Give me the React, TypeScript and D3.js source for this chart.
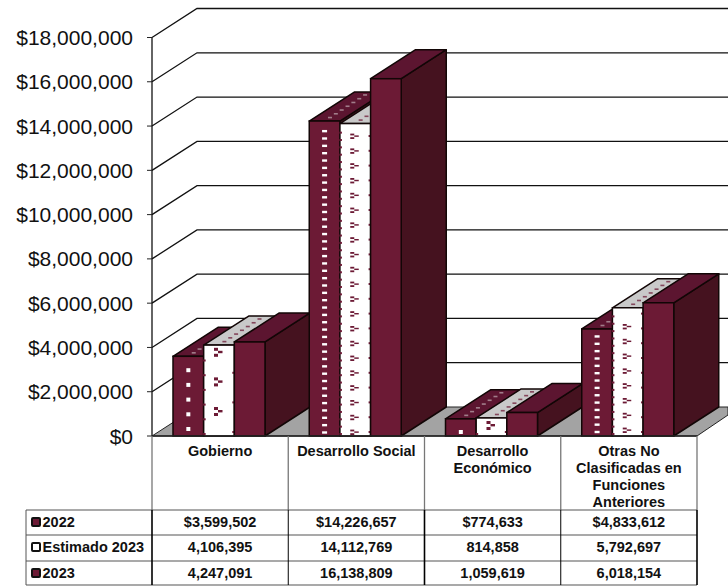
import React from "react";
import * as d3 from "d3";

const categories = ["Gobierno", "Desarrollo Social", "Desarrollo Económico", "Otras No Clasificadas en Funciones Anteriores"];
const categoryLines = [["Gobierno"], ["Desarrollo Social"], ["Desarrollo", "Económico"], ["Otras No", "Clasificadas en", "Funciones", "Anteriores"]];
const seriesNames = ["2022", "Estimado 2023", "2023"];
const values2022 = [3599502, 14226657, 774633, 4833612];
const valuesEst = [4106395, 14112769, 814858, 5792697];
const values2023 = [4247091, 16138809, 1059619, 6018154];
const rows2022 = ["$3,599,502", "$14,226,657", "$774,633", "$4,833,612"];
const rowsEst = ["4,106,395", "14,112,769", "814,858", "5,792,697"];
const rows2023 = ["4,247,091", "16,138,809", "1,059,619", "6,018,154"];
const yTicks = [0, 2, 4, 6, 8, 10, 12, 14, 16, 18].map((d) => d * 1e6);
const patternStep = [14.7, 7.35, 14.7, 7.35];
const patternPhase = [7, 3.5, 4, 4];
const estPatternStep = [29.6, 14.8, 29.6, 14.8];
const estPatternPhase = [25, 4, 11, 6];

const FRONT = "#6c1a35";
const TOP = "#5c1530";
const SIDE = "#45121f";
const FLOOR = "#a3a3a3";
const STROKE = "#120606";
const DX = 45;
const DY = -29;

const y = d3.scaleLinear().domain([0, 18e6]).range([436, 37.5]);
const xGroup = d3.scaleBand<string>().domain(categories).range([152, 697]);
const xBar = d3.scaleBand<string>().domain(seriesNames).range([21, 113]);
const seriesValues = [values2022, valuesEst, values2023];
const rowValues = [rows2022, rowsEst, rows2023];
const fmt = d3.format("$,.0f");
const RIGHT = 728;

const pts = (a: number[][]) => a.map((p) => p.join(",")).join(" ");

function Mark({ cx, cy, k }: { cx: number; cy: number; k: number }) {
  return (
    <g fill={FRONT}>
      <rect x={cx - 4} y={cy - 4 * k} width={4} height={3 * k} />
      <rect x={cx} y={cy - 1 * k} width={4.5} height={2.4 * k} />
      <rect x={cx - 4} y={cy + 2 * k} width={4} height={3 * k} />
    </g>
  );
}

function Bar({ g, s }: { g: number; s: number }) {
  const cat = categories[g];
  const name = seriesNames[s];
  const v = seriesValues[s][g];
  const x0 = xGroup(cat)! + xBar(name)!;
  const w = xBar.bandwidth();
  const yt = y(v);
  const yb = y(0);
  const frontFill = s === 1 ? "#fff" : FRONT;
  const topFill = s === 1 ? "#c9c9c9" : TOP;
  const topMarks = d3.range(0.12, 0.95, 0.13);
  const step = s === 0 ? patternStep[g] : estPatternStep[g];
  const phase = s === 0 ? patternPhase[g] : estPatternPhase[g];
  const rows = d3.range(yb - phase, yt + 5, -step);
  const dense = step < 20 && s === 1 || step < 10;
  const edgeL = d3.range(yb - 2, yt + 3, -patternStep[g]);
  const edgeR = d3.range(yb - 4, yt + 3, -estPatternStep[g]);
  return (
    <g>
      <polygon points={pts([[x0 + w, yt], [x0 + w + DX, yt + DY], [x0 + w + DX, yb + DY], [x0 + w, yb]])} fill={SIDE} stroke={STROKE} strokeWidth={1.5} strokeLinejoin="round" />
      <polygon points={pts([[x0, yt], [x0 + DX, yt + DY], [x0 + w + DX, yt + DY], [x0 + w, yt]])} fill={topFill} stroke={STROKE} strokeWidth={1.5} strokeLinejoin="round" />
      <rect x={x0} y={yt} width={w} height={yb - yt} fill={frontFill} stroke={STROKE} strokeWidth={1.5} />
      {s < 2 && topMarks.map((t, i) => (
        <rect key={i} x={x0 + w / 2 + DX * t - 2} y={yt + DY * t - 0.8} width={4} height={1.6}
          fill={s === 0 ? "#b8a0a8" : FRONT} opacity={0.75} />
      ))}
      {s === 0 && rows.map((ry, i) => (
        <rect key={i} x={x0 + w / 2 - (dense ? 2.5 : 2)} y={ry - (dense ? 1.2 : 2)} width={dense ? 5 : 4} height={dense ? 2.4 : 4} fill="#fff" />
      ))}
      {s === 1 && rows.map((ry, i) => <Mark key={i} cx={x0 + w / 2 - 1} cy={ry} k={dense ? 0.6 : 1} />)}
      {s === 1 && edgeL.map((ry, i) => (
        <rect key={i} x={x0 - 0.5} y={ry - 1} width={2.5} height={2} fill={FRONT} />
      ))}
      {s === 1 && edgeR.map((ry, i) => (
        <rect key={i} x={x0 + w - 2} y={ry - 1} width={2} height={2} fill={FRONT} />
      ))}
    </g>
  );
}

export default function App() {
  const tableTop = 436;
  const rowY = [510, 535, 561, 585];
  const colX = [...categories.map((c) => xGroup(c)!), 697];
  const floorBack = y(0) + DY;
  return (
    <svg width={728} height={586} style={{ position: "absolute", left: 0, top: 0, fontFamily: "'Liberation Sans', Arial, sans-serif" }}>
      <rect width={728} height={586} fill="#fff" />
      {yTicks.slice(1).map((t) => (
        <polyline key={t} points={pts([[152, y(t)], [152 + DX, y(t) + DY], [RIGHT, y(t) + DY]])} fill="none" stroke="#111" strokeWidth={1.3} />
      ))}
      <polygon points={pts([[152, 436], [152 + DX, floorBack], [RIGHT, floorBack], [RIGHT, 415], [697, 436]])} fill={FLOOR} stroke="#222" strokeWidth={1} />
      <line x1={152} x2={152} y1={y(18e6)} y2={436} stroke="#111" strokeWidth={1.3} />
      {yTicks.map((t) => (
        <g key={t}>
          <line x1={147} x2={152} y1={y(t)} y2={y(t)} stroke="#222" />
          <text x={133} y={y(t) + 7.5} textAnchor="end" fontSize={21} fill="#111">{fmt(t)}</text>
        </g>
      ))}
      {categories.map((_, g) => (
        <g key={g}>{seriesNames.map((_, s) => <Bar key={s} g={g} s={s} />)}</g>
      ))}
      <line x1={152} x2={697} y1={436} y2={436} stroke="#222" strokeWidth={1.3} />
      {colX.map((x, i) => (
        <line key={i} x1={x} x2={x} y1={tableTop} y2={rowY[0]} stroke="#777" strokeWidth={1.3} />
      ))}
      {rowY.map((ry) => (
        <line key={ry} x1={26} x2={697} y1={ry} y2={ry} stroke="#555" strokeWidth={1.2} />
      ))}
      <line x1={26} x2={26} y1={510} y2={585} stroke="#555" />
      {colX.map((x, i) => (
        <line key={i} x1={x} x2={x} y1={510} y2={585} stroke="#000" strokeWidth={i % 2 === 0 ? 1.6 : 1} />
      ))}
      {categoryLines.map((lines, i) => (
        <text key={i} textAnchor="middle" fontSize={14.5} fontWeight={700} fill="#111">
          {lines.map((l, j) => (
            <tspan key={j} x={xGroup(categories[i])! + xGroup.bandwidth() / 2} y={456 + j * 17}>{l}</tspan>
          ))}
        </text>
      ))}
      {seriesNames.map((n, s) => (
        <g key={n}>
          <rect x={32} y={rowY[s] + 8} width={8} height={8} rx={1} fill={s === 1 ? "#fff" : FRONT} stroke="#111" strokeWidth={2} />
          <text x={42.5} y={rowY[s] + 17} fontSize={14.5} fontWeight={700} fill="#111">{n}</text>
          {rowValues[s].map((t, i) => (
            <text key={i} x={xGroup(categories[i])! + xGroup.bandwidth() / 2} y={rowY[s] + 17} textAnchor="middle" fontSize={14.5} fontWeight={700} fill="#111">{t}</text>
          ))}
        </g>
      ))}
    </svg>
  );
}
